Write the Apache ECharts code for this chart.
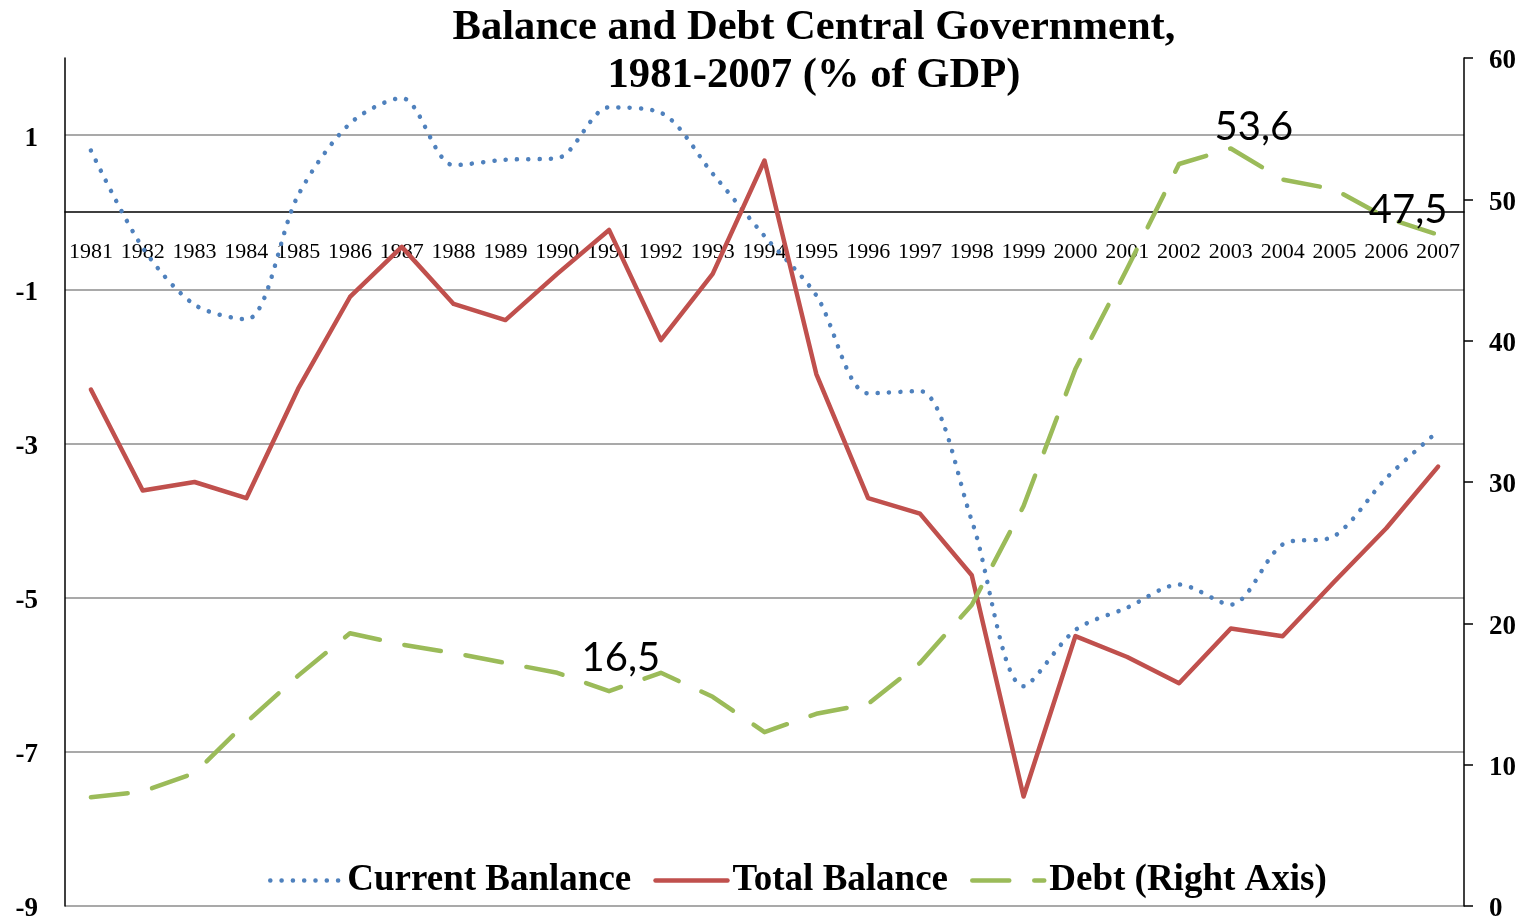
<!DOCTYPE html>
<html>
<head>
<meta charset="utf-8">
<title>Balance and Debt Central Government</title>
<script src="https://cdn.jsdelivr.net/npm/echarts@6/dist/echarts.min.js"></script>
<style>
  html, body { margin: 0; padding: 0; background: #ffffff; }
  #chart { width: 1536px; height: 918px; }
</style>
</head>
<body>
<div id="chart"></div>
<script>
// Years on the category axis
const years = ['1981', '1982', '1983', '1984', '1985', '1986', '1987', '1988', '1989', '1990',
  '1991', '1992', '1993', '1994', '1995', '1996', '1997', '1998', '1999', '2000',
  '2001', '2002', '2003', '2004', '2005', '2006', '2007'];

// Current balance, % of GDP (left axis)
const currentBalance = [0.80, -0.46, -1.20, -1.39, 0.22, 1.15, 1.48, 0.61, 0.68, 0.70,
  1.36, 1.29, 0.50, -0.31, -1.08, -2.35, -2.32, -4.00, -6.15, -5.42,
  -5.13, -4.83, -5.09, -4.31, -4.20, -3.45, -2.84];

// Total balance, % of GDP (left axis)
const totalBalance = [-2.30, -3.61, -3.50, -3.71, -2.29, -1.10, -0.45, -1.19, -1.40, -0.80,
  -0.23, -1.66, -0.80, 0.67, -2.10, -3.71, -3.91, -4.71, -7.58, -5.50,
  -5.77, -6.11, -5.40, -5.50, -4.79, -4.10, -3.30];

// Central government debt, % of GDP (right axis)
const debt = [7.7, 8.1, 9.4, 13.0, 16.3, 19.3, 18.5, 17.9, 17.2, 16.5,
  15.2, 16.5, 14.8, 12.3, 13.6, 14.3, 17.2, 21.3, 28.3, 38.0,
  45.1, 52.5, 53.6, 51.4, 50.7, 48.7, 47.5];

// Years whose debt value is printed next to the line
const debtLabelYears = ['1992', '2003', '2007'];

// Axis ranges
const leftMin = -9, leftMax = 2, leftStep = 2;
const rightMin = 0, rightMax = 60, rightStep = 10;

// Layout of the plotting area
const gridTop = 58, gridBottom = 12, chartHeight = 918;
const plotHeight = chartHeight - gridTop - gridBottom;
// The year axis sits on the zero line of the left axis
const zeroLineOffset = -plotHeight * (0 - leftMin) / (leftMax - leftMin);

// Label placement for the printed debt values (relative to the point)
const debtLabelOffsets = { '1992': [-40, -15], '2003': [23, -21], '2007': [-30, -25] };

const serif = '"Liberation Serif", "Times New Roman", serif';

const debtData = debt.map((v, i) => {
  const y = years[i];
  if (debtLabelYears.indexOf(y) === -1) return v;
  return {
    value: v,
    symbol: 'circle',
    symbolSize: 0.01,
    label: {
      show: true,
      position: 'inside',
      offset: debtLabelOffsets[y],
      formatter: p => Number(p.value).toFixed(1).replace('.', ','),
      fontFamily: 'Lato, "Open Sans", sans-serif',
      fontSize: 40,
      color: '#000000'
    }
  };
});

// Bold tick labels of both value axes, centred a little below each tick
const valueLabelStyle = {
  fontFamily: serif,
  fontWeight: 'bold',
  fontSize: 27,
  color: '#000000',
  verticalAlign: 'top',
  lineHeight: 7
};

const chart = echarts.init(document.getElementById('chart'), null, { renderer: 'canvas' });

chart.setOption({
  animation: false,
  backgroundColor: '#ffffff',
  title: {
    text: 'Balance and Debt Central Government,\n1981-2007 (% of GDP)',
    left: 814,
    top: 4,
    padding: 0,
    textAlign: 'center',
    textStyle: {
      fontFamily: serif,
      fontWeight: 'bold',
      fontSize: 42.6,
      lineHeight: 48,
      color: '#000000'
    }
  },
  legend: {
    left: 268,
    top: 862,
    padding: 0,
    itemGap: 22,
    itemWidth: 72,
    itemHeight: 14,
    itemStyle: { opacity: 0 },
    lineStyle: { width: 4.5 },
    textStyle: {
      fontFamily: serif,
      fontWeight: 'bold',
      fontSize: 37,
      color: '#000000'
    },
    data: ['Current Banlance', 'Total Balance', 'Debt (Right Axis)']
  },
  grid: { left: 65, right: 72, top: gridTop, bottom: gridBottom, containLabel: false, outerBoundsMode: 'none' },
  xAxis: {
    type: 'category',
    data: years,
    boundaryGap: true,
    position: 'bottom',
    offset: zeroLineOffset,
    axisLine: { show: true, onZero: false, lineStyle: { color: '#000000', width: 1.5 } },
    axisTick: { show: false },
    axisLabel: {
      interval: 0,
      margin: 29,
      fontFamily: serif,
      fontSize: 22,
      color: '#000000'
    },
    splitLine: { show: false }
  },
  yAxis: [
    {
      type: 'value',
      position: 'left',
      min: leftMin,
      max: leftMax,
      interval: leftStep,
      axisLine: { show: true, lineStyle: { color: '#000000', width: 1.5 } },
      axisTick: { show: false },
      axisLabel: Object.assign({ showMaxLabel: false, margin: 27 }, valueLabelStyle),
      splitLine: {
        show: true,
        showMaxLine: false,
        lineStyle: { color: '#8c8c8c', width: 1.5 }
      }
    },
    {
      type: 'value',
      position: 'right',
      min: rightMin,
      max: rightMax,
      interval: rightStep,
      axisLine: { show: true, lineStyle: { color: '#000000', width: 1.5 } },
      axisTick: { show: true, inside: false, length: 9, lineStyle: { color: '#000000', width: 1.5 } },
      axisLabel: Object.assign({ margin: 25 }, valueLabelStyle),
      splitLine: { show: false }
    }
  ],
  series: [
    {
      name: 'Current Banlance',
      type: 'line',
      yAxisIndex: 0,
      data: currentBalance,
      smooth: 0.3,
      symbol: 'none',
      itemStyle: { color: '#4F81BD' },
      lineStyle: { color: '#4F81BD', width: 4.5, type: [0.1, 11.2], cap: 'round', join: 'round' },
      z: 2
    },
    {
      name: 'Total Balance',
      type: 'line',
      yAxisIndex: 0,
      data: totalBalance,
      symbol: 'none',
      itemStyle: { color: '#C0504D' },
      lineStyle: { color: '#C0504D', width: 4.5, type: 'solid', cap: 'round', join: 'round' },
      z: 3
    },
    {
      name: 'Debt (Right Axis)',
      type: 'line',
      yAxisIndex: 1,
      data: debtData,
      symbol: 'none',
      itemStyle: { color: '#9BBB59' },
      lineStyle: { color: '#9BBB59', width: 4.5, type: [37, 25], cap: 'round', join: 'round' },
      z: 4
    }
  ]
});
</script>
</body>
</html>
